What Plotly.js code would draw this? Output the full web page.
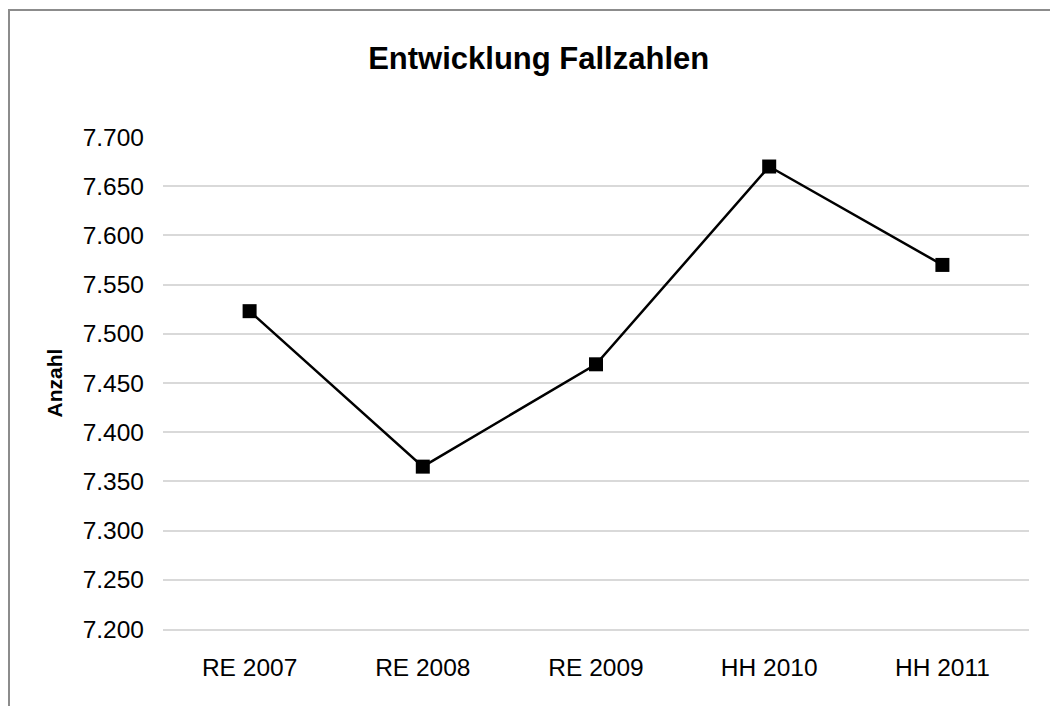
<!DOCTYPE html>
<html>
<head>
<meta charset="utf-8">
<script src="https://cdn.plot.ly/plotly-3.0.1.min.js"></script>
<style>
  html, body { margin: 0; padding: 0; background: #fff; }
  #graph { width: 1050px; height: 706px; }
  #frame {
    position: absolute; left: 8px; top: 9px; width: 1100px; height: 800px;
    border-left: 2px solid #8c8c8c; border-top: 2px solid #8c8c8c;
    pointer-events: none;
  }
</style>
</head>
<body>
<div id="graph"></div>
<div id="frame"></div>
<script>
const categories = ['RE 2007', 'RE 2008', 'RE 2009', 'HH 2010', 'HH 2011'];
const fallzahlen = [7523, 7365, 7469, 7670, 7570];
const tickValues = [7200, 7250, 7300, 7350, 7400, 7450, 7500, 7550, 7600, 7650, 7700];
const tickLabels = ['7.200', '7.250', '7.300', '7.350', '7.400', '7.450', '7.500', '7.550', '7.600', '7.650', '7.700'];

const font = 'Liberation Sans, Arial, sans-serif';

const trace = {
    x: categories,
    y: fallzahlen,
    mode: 'lines+markers',
    line: { color: '#000', width: 2.5 },
    marker: { symbol: 'square', size: 14, color: '#000' },
    hoverinfo: 'x+y',
};

const layout = {
    width: 1050,
    height: 706,
    title: {
        text: '<b>Entwicklung Fallzahlen</b>',
        font: { family: font, size: 31, color: '#000' },
        x: 0.513, xanchor: 'center',
        y: 0.917, yanchor: 'middle',
    },
    showlegend: false,
    plot_bgcolor: 'white',
    paper_bgcolor: 'white',
    margin: { l: 163, r: 21, t: 137, b: 77 },
    xaxis: {
        type: 'category',
        showgrid: false,
        zeroline: false,
        showline: true,
        linecolor: '#d9d9d9',
        linewidth: 1.5,
        ticks: '',
        tickfont: { family: font, size: 24.5, color: '#000' },
        ticklabelstandoff: 16,
        range: [-0.5, 4.5],
    },
    yaxis: {
        title: { text: '<b>Anzahl</b>', font: { family: font, size: 21, color: '#000' }, standoff: 14 },
        range: [7200, 7700],
        tickvals: tickValues,
        ticktext: tickLabels,
        tickfont: { family: font, size: 24.5, color: '#000' },
        showgrid: true,
        gridcolor: '#d9d9d9',
        gridwidth: 1.5,
        zeroline: false,
        showline: false,
        ticks: '',
        ticklabelstandoff: 18,
    },
};

Plotly.newPlot('graph', [trace], layout, { displayModeBar: false });
</script>
</body>
</html>
